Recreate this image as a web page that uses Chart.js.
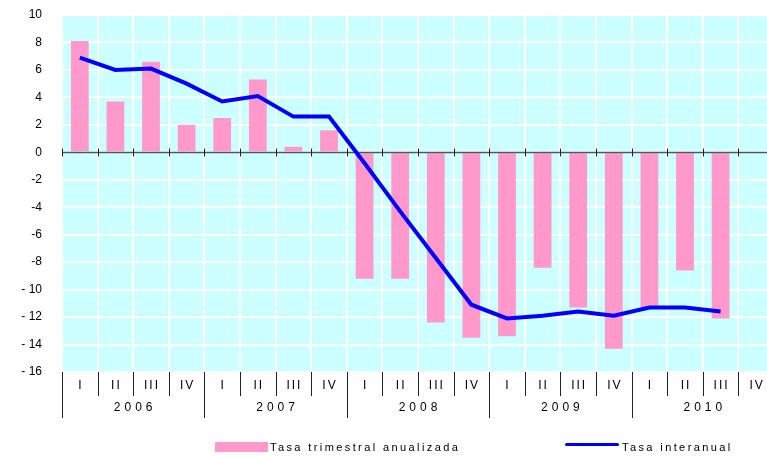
<!DOCTYPE html>
<html>
<head>
<meta charset="utf-8">
<script src="https://cdn.jsdelivr.net/npm/chart.js@4/dist/chart.umd.min.js"></script>
<style>
  body { margin: 0; overflow: hidden; background: #fff; font-family: "Liberation Sans", Arial, sans-serif; }
  #caja { position: relative; width: 780px; height: 456px; }
  .texto { position: absolute; font-size: 11px; line-height: 11px; letter-spacing: 2.4px; color: #000; white-space: nowrap; }
</style>
</head>
<body>
<div id="caja">
  <canvas id="grafico" width="780" height="456"></canvas>
  <div style="position:absolute;left:215px;top:442px;width:53px;height:10px;background:#ff99cc"></div>
  <div class="texto" style="left:270px;top:442px">Tasa trimestral anualizada</div>
  <div style="position:absolute;left:565px;top:443px;width:54px;height:3px;background:#0000ff;border-radius:2px"></div>
  <div class="texto" style="left:622px;top:442px">Tasa interanual</div>
</div>
<script>
// trimestres y años
const trimestres = ['I', 'II', 'III', 'IV', 'I', 'II', 'III', 'IV', 'I', 'II', 'III', 'IV',
                    'I', 'II', 'III', 'IV', 'I', 'II', 'III', 'IV'];
const anios = ['2006', '2007', '2008', '2009', '2010'];

// valores
const tasaTrimestral = [8.1, 3.7, 6.6, 2.0, 2.5, 5.3, 0.4, 1.6, -9.2, -9.2, -12.4, -13.5,
                        -13.4, -8.4, -11.3, -14.3, -11.3, -8.6, -12.1, null];
const tasaInteranual = [6.9, 6.0, 6.1, 5.0, 3.7, 4.1, 2.6, 2.6, -0.8, -4.3, -7.7, -11.1,
                        -12.1, -11.9, -11.6, -11.9, -11.3, -11.3, -11.6, null];

Chart.defaults.font.family = '"Liberation Sans", Arial, sans-serif';
Chart.defaults.color = '#000';

// fondo, línea del cero y etiquetas de trimestres / años
const decorado = {
  id: 'decorado',
  beforeDraw(chart) {
    const { ctx, chartArea: a } = chart;
    ctx.save();
    ctx.fillStyle = '#ccffff';
    ctx.fillRect(a.left, a.top, a.right - a.left, a.bottom - a.top);
    ctx.restore();
  },
  afterDatasetDraw(chart, args) {
    if (args.meta.type !== 'bar') return;
    const { ctx, chartArea: a, scales: { x, y } } = chart;
    const paso = x.getPixelForValue(1) - x.getPixelForValue(0);
    const y0 = Math.round(y.getPixelForValue(0)) + 0.5;
    ctx.save();
    ctx.strokeStyle = '#555';
    ctx.lineWidth = 1.5;
    ctx.beginPath();
    ctx.moveTo(a.left, y0);
    ctx.lineTo(a.right, y0);
    ctx.stroke();
    ctx.lineWidth = 1;
    ctx.strokeStyle = '#222';
    for (let i = 0; i <= trimestres.length; i++) {
      const px = Math.round(x.getPixelForValue(i) - paso / 2) + 0.5;
      ctx.beginPath();
      ctx.moveTo(px, y0 - 4);
      ctx.lineTo(px, y0 + 4);
      ctx.stroke();
    }
    ctx.restore();
  },
  afterDraw(chart) {
    const { ctx, chartArea: a, scales: { x } } = chart;
    const paso = x.getPixelForValue(1) - x.getPixelForValue(0);
    ctx.save();
    ctx.strokeStyle = '#222';
    ctx.lineWidth = 1;
    for (let i = 0; i <= trimestres.length; i++) {
      const px = Math.round(x.getPixelForValue(i) - paso / 2) + 0.5;
      const largo = i % 4 === 0 ? 46 : 24;
      ctx.beginPath();
      ctx.moveTo(px, a.bottom);
      ctx.lineTo(px, a.bottom + largo);
      ctx.stroke();
    }
    ctx.fillStyle = '#000';
    ctx.textAlign = 'center';
    ctx.textBaseline = 'middle';
    ctx.font = '12px "Liberation Sans", Arial, sans-serif';
    ctx.letterSpacing = '2px';
    trimestres.forEach((t, i) => {
      ctx.fillText(t, x.getPixelForValue(i) + 1, a.bottom + 14);
    });
    ctx.letterSpacing = '4px';
    anios.forEach((t, j) => {
      const cx = (x.getPixelForValue(j * 4) + x.getPixelForValue(j * 4 + 3)) / 2;
      ctx.fillText(t, cx + 2, a.bottom + 36);
    });
    ctx.restore();
  }
};

const ctx = document.getElementById('grafico').getContext('2d');
new Chart(ctx, {
  type: 'bar',
  data: {
    labels: trimestres,
    datasets: [
      {
        type: 'line',
        label: 'Tasa interanual',
        data: tasaInteranual,
        borderColor: '#0000ff',
        borderWidth: 4,
        pointRadius: 0,
        tension: 0,
        order: 0
      },
      {
        type: 'bar',
        label: 'Tasa trimestral anualizada',
        data: tasaTrimestral,
        backgroundColor: '#ff99cc',
        barPercentage: 0.5,
        categoryPercentage: 1,
        order: 1
      }
    ]
  },
  options: {
    responsive: false,
    animation: false,
    layout: { padding: { top: 15, right: 6, left: 0, bottom: 0 } },
    plugins: {
      legend: { display: false },
      tooltip: { enabled: false }
    },
    scales: {
      x: {
        offset: true,
        grid: { offset: true, color: '#fff', lineWidth: 2, drawTicks: false },
        border: { display: false },
        ticks: { display: false },
        afterFit: s => { s.height = 84; }
      },
      y: {
        min: -16,
        max: 10,
        grid: { color: '#fff', lineWidth: 2, drawTicks: false },
        border: { display: false },
        ticks: {
          stepSize: 2,
          padding: 20,
          font: { size: 12 },
          callback: v => (v <= -10 ? '- ' + (-v) : String(v))
        },
        afterFit: s => {
          s.width = 62;
          s.paddingTop = 0;
          s.paddingBottom = 0;
        }
      }
    }
  },
  plugins: [decorado]
});
</script>
</body>
</html>
